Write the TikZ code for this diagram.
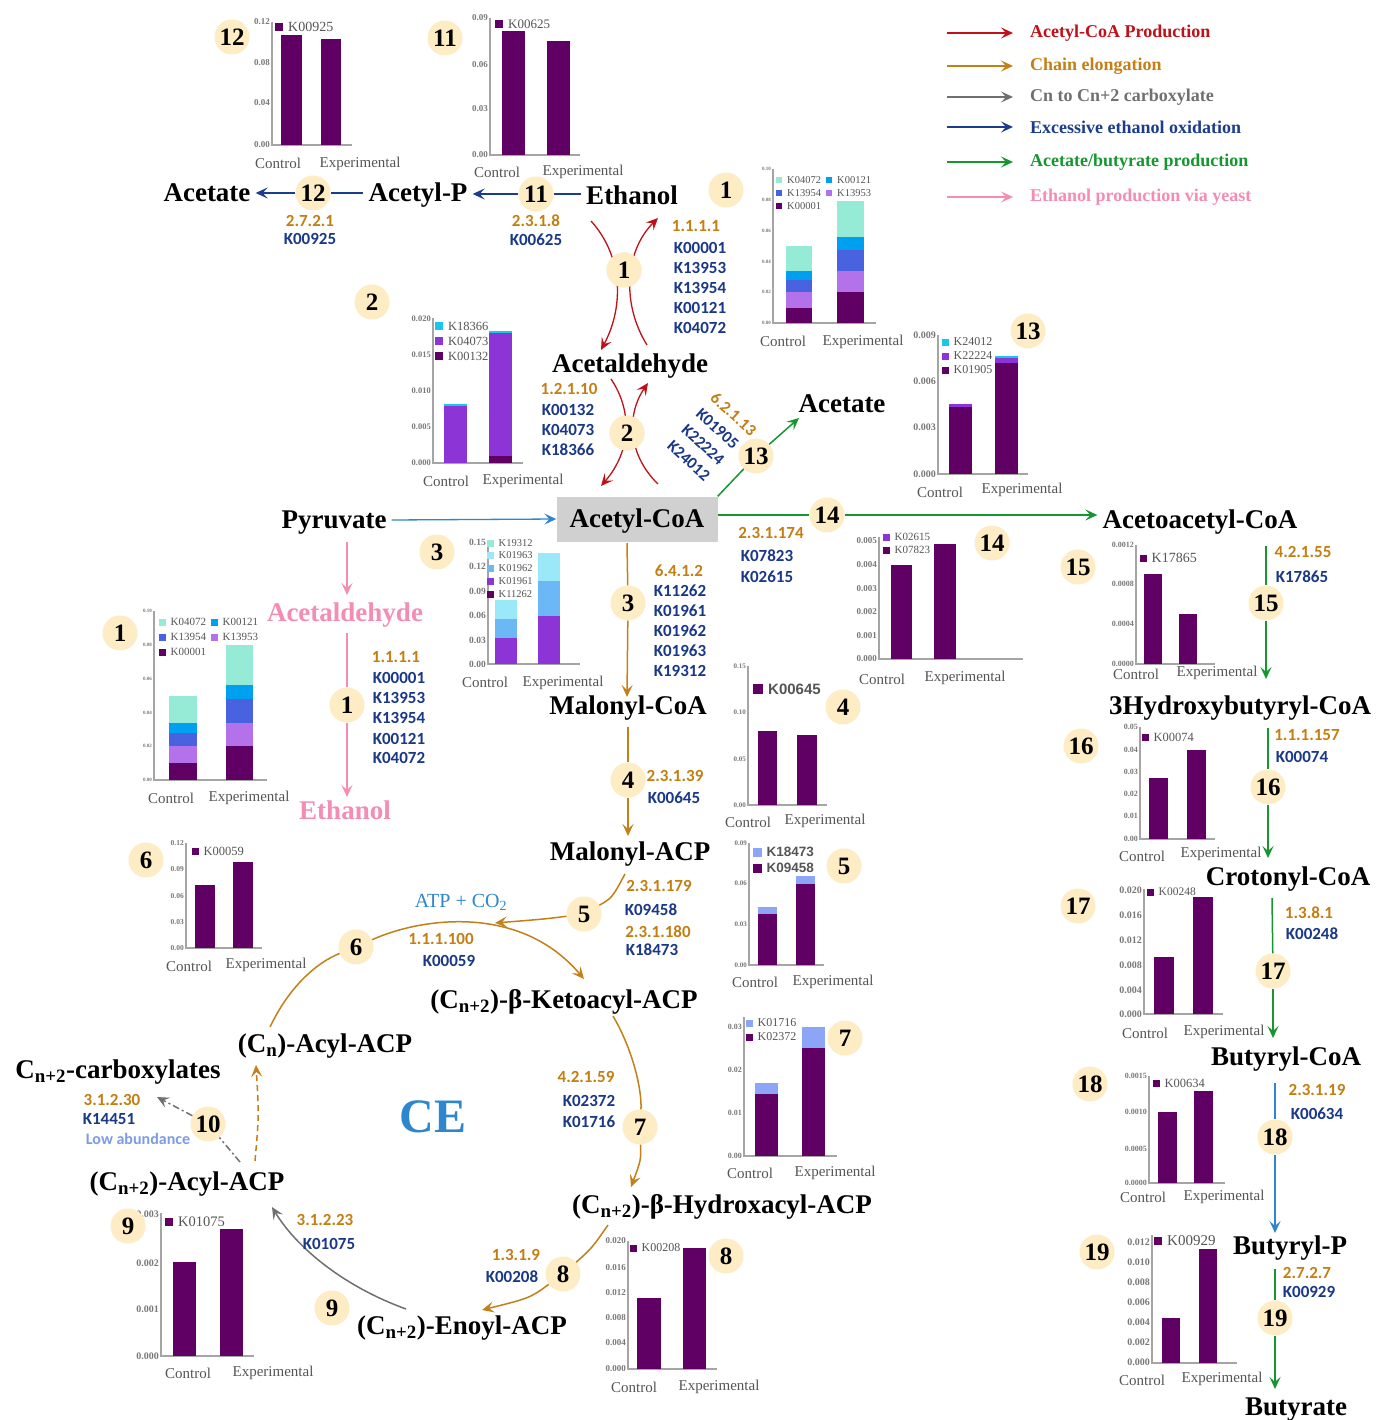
\documentclass[tikz,border=0pt]{standalone}
\usepackage{fontspec}
\setmainfont{Liberation Serif}
\newfontfamily\kfont{Carlito}
\newfontfamily\afont{Liberation Sans}
\usetikzlibrary{arrows.meta}
\definecolor{cream}{RGB}{253,236,196}
\definecolor{pp}{RGB}{96,0,100}
\definecolor{ecc}{RGB}{196,126,18}
\definecolor{kc}{RGB}{26,56,136}
\definecolor{redc}{RGB}{192,16,24}
\definecolor{orc}{RGB}{196,128,22}
\definecolor{grc}{RGB}{112,112,112}
\definecolor{blc}{RGB}{28,60,140}
\definecolor{gnc}{RGB}{22,150,48}
\definecolor{pkc}{RGB}{244,140,180}
\definecolor{lbc}{RGB}{46,134,206}
\definecolor{mint}{RGB}{150,235,215}
\definecolor{brb}{RGB}{0,160,240}
\definecolor{rob}{RGB}{72,98,224}
\definecolor{lav}{RGB}{180,114,234}
\definecolor{vio}{RGB}{140,52,214}
\definecolor{cyn}{RGB}{24,200,234}
\definecolor{lcy}{RGB}{155,232,248}
\definecolor{mblu}{RGB}{108,184,246}
\definecolor{peri}{RGB}{140,166,245}
\definecolor{axc}{RGB}{165,165,165}
\definecolor{txg}{RGB}{85,85,85}
\definecolor{tkc}{RGB}{120,120,120}
\definecolor{boxg}{RGB}{208,208,208}
\definecolor{lowc}{RGB}{126,155,230}
\def\tkfs{9}\def\lgfs{12}\def\lgh{3.5}\def\lgff{}
\tikzset{
  mn/.style={font=\fontsize{27}{29}\selectfont\bfseries, inner xsep=5pt, inner ysep=2pt, text height=17.8pt, text depth=0pt},
  num/.style={circle, fill=cream, minimum size=35pt, inner sep=0pt, font=\fontsize{25}{25}\selectfont\bfseries},
  ec/.style={font=\kfont\fontsize{17}{17}\selectfont\bfseries, text=ecc, inner sep=0pt},
  kk/.style={font=\kfont\fontsize{17}{17}\selectfont\bfseries, text=kc, inner sep=0pt},
  tl/.style={anchor=east, inner sep=0pt, text=tkc, font=\fontsize{\tkfs}{\tkfs}\selectfont\bfseries},
  xl/.style={font=\fontsize{15}{15}\selectfont, text=txg, inner sep=0pt},
  lt/.style={anchor=west, inner sep=0pt, text=txg, font=\lgff\fontsize{\lgfs}{\lgfs}\selectfont},
  axl/.style={draw=axc, line width=1.2pt},
  ln/.style={line width=1.5pt},
  arr/.style={line width=1.5pt, -{Stealth[length=12pt,width=11pt,inset=5pt]}},
  legt/.style={anchor=west, inner sep=0pt, font=\fontsize{18}{18}\selectfont\bfseries},
}
\newcommand\ticks[3]{\foreach \yy/\ll [count=\ii] in {#3} {\node[tl] (#1t\ii) at (#2,\yy) {\ll};}}
\newcommand\lgd[5]{\fill[#4] (#2-\lgh,#3-\lgh) rectangle (#2+\lgh,#3+\lgh);\node[lt] (#1) at (#2+\lgh+5,#3) {#5};}
\newcommand\cx[5]{\node[xl] (#1c) at (#2,#3) {Control};\node[xl] (#1e) at (#4,#5) {Experimental};}
\begin{document}
\begin{tikzpicture}[x=1pt,y=-1pt]
\useasboundingbox (0,0) rectangle (1376,1420);
\fill[white] (0,0) rectangle (1376,1420);

% ---------------- legend
\foreach \yy/\cc/\tt [count=\ii] in {33/redc/{Acetyl-CoA Production},66/orc/{Chain elongation},97/grc/{Cn to Cn+2 carboxylate},127/blc/{Excessive ethanol oxidation},162/gnc/{Acetate/butyrate production},197/pkc/{Ethanol production via yeast}}{
  \coordinate (la\ii) at (947,\yy);
  \coordinate (lb\ii) at (1013,\yy);
  \draw[arr,\cc,line width=2pt] (la\ii) -- (lb\ii);
  \node[legt,text=\cc] (lt\ii) at (1030,\yy) {\tt};
}

% ---------------- charts
% chart 12
\def\tkfs{9}\def\lgfs{14}\def\lgh{4}
\draw[axl] (272,22) -- (272,145) -- (352,145);
\ticks{k12}{270}{22/0.12,63/0.08,103/0.04,145/0.00}
\fill[pp] (281,145) rectangle (302,35);
\fill[pp] (321,145) rectangle (341,39);
\lgd{k12l}{279}{27}{pp}{K00925}
\cx{k12}{278}{163}{360}{164}
% chart 11
\def\lgfs{13}
\draw[axl] (490,18) -- (490,155) -- (580,155);
\ticks{k11}{488}{18/0.09,65/0.06,109/0.03,155/0.00}
\fill[pp] (502,155) rectangle (525,31);
\fill[pp] (547,155) rectangle (570,41);
\lgd{k11l}{499}{24}{pp}{K00625}
\cx{k11}{497}{172}{583}{172}
% chart 1 top
\def\tkfs{5}\def\lgfs{10.5}\def\lgh{3}
\draw[axl] (773,169) -- (773,323) -- (876,323);
\ticks{k1}{771}{169/0.10,200/0.08,231/0.06,262/0.04,292/0.02,323/0.00}
\fill[pp] (786,323) rectangle (812,307.7);
\fill[lav] (786,307.7) rectangle (812,292.4);
\fill[rob] (786,292.4) rectangle (812,280.2);
\fill[brb] (786,280.2) rectangle (812,271);
\fill[mint] (786,271) rectangle (812,246.5);
\fill[pp] (837,323) rectangle (864,292.4);
\fill[lav] (837,292.4) rectangle (864,271);
\fill[rob] (837,271) rectangle (864,249.6);
\fill[brb] (837,249.6) rectangle (864,237.3);
\fill[mint] (837,237.3) rectangle (864,200.6);
\lgd{k1la}{779}{180}{mint}{K04072}
\lgd{k1lb}{829}{180}{brb}{K00121}
\lgd{k1lc}{779}{193}{rob}{K13954}
\lgd{k1ld}{829}{193}{lav}{K13953}
\lgd{k1le}{779}{206}{pp}{K00001}
\cx{k1}{783}{341}{863}{342}
% chart 1 left
\def\lgfs{11}\def\lgh{3.5}
\draw[axl] (154,611) -- (154,780) -- (267,780);
\ticks{k1b}{152}{611/0.10,645/0.08,679/0.06,713/0.04,746/0.02,780/0.00}
\fill[pp] (169,780) rectangle (197,763);
\fill[lav] (169,763) rectangle (197,746);
\fill[rob] (169,746) rectangle (197,733);
\fill[brb] (169,733) rectangle (197,723);
\fill[mint] (169,723) rectangle (197,696);
\fill[pp] (226,780) rectangle (253,746);
\fill[lav] (226,746) rectangle (253,723);
\fill[rob] (226,723) rectangle (253,699);
\fill[brb] (226,699) rectangle (253,685);
\fill[mint] (226,685) rectangle (253,645);
\lgd{k1bla}{162}{622}{mint}{K04072}
\lgd{k1blb}{214}{622}{brb}{K00121}
\lgd{k1blc}{162}{637}{rob}{K13954}
\lgd{k1bld}{214}{637}{lav}{K13953}
\lgd{k1ble}{162}{652}{pp}{K00001}
\cx{k1b}{171}{798}{249}{798}
% chart 2
\def\tkfs{8.5}\def\lgfs{12.5}\def\lgh{4}
\draw[axl] (433,318) -- (433,463) -- (523,463);
\ticks{k2}{431}{319/0.020,355/0.015,391/0.010,427/0.005,463/0.000}
\fill[vio] (444,463) rectangle (467,406);
\fill[cyn] (444,406) rectangle (467,404.3);
\fill[pp] (489,463) rectangle (512,456);
\fill[vio] (489,456) rectangle (512,333);
\fill[cyn] (489,333) rectangle (512,331.3);
\lgd{k2la}{439}{326}{cyn}{K18366}
\lgd{k2lb}{439}{341}{vio}{K04073}
\lgd{k2lc}{439}{356}{pp}{K00132}
\cx{k2}{446}{481}{523}{481}
% chart 3
\def\tkfs{9.5}\def\lgfs{10.5}\def\lgh{3.5}
\draw[axl] (488,542) -- (488,664) -- (580,664);
\ticks{k3}{486}{542/0.15,566/0.12,591/0.09,615/0.06,640/0.03,664/0.00}
\fill[vio] (495,664) rectangle (517,638);
\fill[mblu] (495,638) rectangle (517,619);
\fill[lcy] (495,619) rectangle (517,600);
\fill[vio] (538,664) rectangle (560,616);
\fill[mblu] (538,616) rectangle (560,581);
\fill[lcy] (538,581) rectangle (560,553);
\lgd{k3la}{490}{543}{mint}{K19312}
\lgd{k3lb}{490}{555}{lcy}{K01963}
\lgd{k3lc}{490}{568}{mblu}{K01962}
\lgd{k3ld}{490}{581}{vio}{K01961}
\lgd{k3le}{490}{594}{pp}{K11262}
\cx{k3}{485}{682}{563}{683}
% chart 13
\def\tkfs{10}\def\lgfs{12}
\draw[axl] (938,335) -- (938,474) -- (1028,474);
\ticks{k13}{936}{335/0.009,381/0.006,427/0.003,474/0.000}
\fill[pp] (949,474) rectangle (972,407);
\fill[vio] (949,407) rectangle (972,404);
\fill[pp] (995,474) rectangle (1018,363);
\fill[vio] (995,363) rectangle (1018,358);
\fill[cyn] (995,358) rectangle (1018,355.5);
\lgd{k13la}{945}{342}{cyn}{K24012}
\lgd{k13lb}{945}{356}{vio}{K22224}
\lgd{k13lc}{945}{370}{pp}{K01905}
\cx{k13}{940}{492}{1022}{490}
% chart 14
\def\tkfs{9}\def\lgfs{11}
\draw[axl] (879,537) -- (879,659) -- (1023,659);
\ticks{k14}{877}{541/0.005,565/0.004,589/0.003,612/0.002,636/0.001,659/0.000}
\fill[pp] (891,659) rectangle (912,565);
\fill[pp] (934,659) rectangle (956,544);
\lgd{k14la}{886}{537}{vio}{K02615}
\lgd{k14lb}{886}{550}{pp}{K07823}
\cx{k14}{882}{679}{965}{678}
% chart 4
\def\tkfs{7}\def\lgfs{15}\def\lgh{5}\def\lgff{\afont\bfseries}
\draw[axl] (748,666) -- (748,805) -- (827,805);
\ticks{k4}{746}{666/0.15,712/0.10,759/0.05,805/0.00}
\fill[pp] (758,805) rectangle (777,731);
\fill[pp] (797,805) rectangle (817,735);
\lgd{k4l}{758}{689}{pp}{K00645}
\cx{k4}{748}{822}{825}{821}
% chart 5
\def\lgfs{13.5}\def\lgh{4.5}
\draw[axl] (749,843) -- (749,965) -- (824,965);
\ticks{k5}{747}{843/0.09,883/0.06,924/0.03,965/0.00}
\fill[pp] (758,965) rectangle (777,914);
\fill[peri] (758,914) rectangle (777,907);
\fill[pp] (796,965) rectangle (815,884);
\fill[peri] (796,884) rectangle (815,876);
\lgd{k5la}{757}{852}{peri}{K18473}
\lgd{k5lb}{757}{868}{pp}{K09458}
\cx{k5}{755}{982}{833}{982}
\def\lgff{}
% chart 6
\def\tkfs{7.5}\def\lgfs{12.5}\def\lgh{3.5}
\draw[axl] (186,843) -- (186,948) -- (262,948);
\ticks{k6}{184}{843/0.12,869/0.09,896/0.06,922/0.03,948/0.00}
\fill[pp] (195,948) rectangle (215,885);
\fill[pp] (233,948) rectangle (253,862);
\lgd{k6l}{195}{851}{pp}{K00059}
\cx{k6}{189}{966}{266}{965}
% chart 7
\def\tkfs{8}\def\lgfs{12}
\draw[axl] (744,1017) -- (744,1156) -- (837,1156);
\ticks{k7}{742}{1027/0.03,1070/0.02,1113/0.01,1156/0.00}
\fill[pp] (755,1156) rectangle (778,1094);
\fill[peri] (755,1094) rectangle (778,1083);
\fill[pp] (802,1156) rectangle (825,1048);
\fill[peri] (802,1048) rectangle (825,1027);
\lgd{k7la}{749}{1023}{peri}{K01716}
\lgd{k7lb}{749}{1037}{pp}{K02372}
\cx{k7}{750}{1173}{835}{1173}
% chart 8
\def\tkfs{9}
\draw[axl] (628,1241) -- (628,1369) -- (717,1369);
\ticks{k8}{626}{1241/0.020,1268/0.016,1293/0.012,1318/0.008,1343/0.004,1369/0.000}
\fill[pp] (637,1369) rectangle (661,1298);
\fill[pp] (683,1369) rectangle (706,1248);
\lgd{k8l}{633}{1248}{pp}{K00208}
\cx{k8}{634}{1387}{719}{1387}
% chart 9
\def\tkfs{10}\def\lgfs{14.5}\def\lgh{4}
\draw[axl] (161,1213) -- (161,1356) -- (254,1356);
\ticks{k9}{159}{1214/0.003,1263/0.002,1309/0.001,1356/0.000}
\fill[pp] (173,1356) rectangle (196,1262);
\fill[pp] (220,1356) rectangle (243,1229);
\lgd{k9l}{169}{1222}{pp}{K01075}
\cx{k9}{188}{1373}{273}{1373}
% chart 15
\def\tkfs{8}\def\lgfs{14}\def\lgh{3.5}
\draw[axl] (1136,545) -- (1136,664) -- (1215,664);
\ticks{k15}{1134}{545/0.0012,584/0.0008,624/0.0004,664/0.0000}
\fill[pp] (1144,664) rectangle (1162,574);
\fill[pp] (1179,664) rectangle (1197,614);
\lgd{k15l}{1143}{558}{pp}{K17865}
\cx{k15}{1136}{674}{1217}{673}
% chart 16
\def\lgfs{12.5}
\draw[axl] (1140,727) -- (1140,839) -- (1215,839);
\ticks{k16}{1138}{727/0.05,750/0.04,772/0.03,794/0.02,816/0.01,839/0.00}
\fill[pp] (1149,839) rectangle (1168,778);
\fill[pp] (1187,839) rectangle (1206,750);
\lgd{k16l}{1145}{737}{pp}{K00074}
\cx{k16}{1142}{856}{1221}{854}
% chart 17
\def\tkfs{10}\def\lgfs{11.5}
\draw[axl] (1144,889) -- (1144,1014) -- (1223,1014);
\ticks{k17}{1142}{890/0.020,915/0.016,940/0.012,965/0.008,990/0.004,1014/0.000}
\fill[pp] (1154,1014) rectangle (1174,957);
\fill[pp] (1193,1014) rectangle (1213,897);
\lgd{k17l}{1150}{892}{pp}{K00248}
\cx{k17}{1145}{1033}{1224}{1032}
% chart 18
\def\tkfs{8}\def\lgfs{12.5}
\draw[axl] (1149,1076) -- (1149,1183) -- (1225,1183);
\ticks{k18}{1147}{1076/0.0015,1112/0.0010,1149/0.0005,1183/0.0000}
\fill[pp] (1158,1183) rectangle (1177,1112);
\fill[pp] (1194,1183) rectangle (1213,1091);
\lgd{k18l}{1156}{1083}{pp}{K00634}
\cx{k18}{1143}{1197}{1224}{1197}
% chart 19
\def\tkfs{10}\def\lgfs{15}\def\lgh{4}
\draw[axl] (1152,1235) -- (1152,1363) -- (1237,1363);
\ticks{k19}{1150}{1242/0.012,1262/0.010,1282/0.008,1302/0.006,1322/0.004,1342/0.002,1362/0.000}
\fill[pp] (1162,1363) rectangle (1180,1318);
\fill[pp] (1199,1363) rectangle (1217,1249);
\lgd{k19l}{1158}{1241}{pp}{K00929}
\cx{k19}{1142}{1380}{1222}{1379}

% ---------------- main nodes
\node[mn] (ethanol1) at (632,196) {Ethanol};
\node[mn] (acetylp) at (418,193) {Acetyl-P};
\node[mn] (acetate1) at (207,193) {Acetate};
\node[mn] (acald1) at (630,364) {Acetaldehyde};
\node[mn, fill=boxg, minimum width=161pt, minimum height=45pt] (accoa) at (637,519) {Acetyl-CoA};
\node[mn] (pyr) at (334,520) {Pyruvate};
\node[mn] (acetate2) at (842,404) {Acetate};
\node[mn] (acac) at (1200,520) {Acetoacetyl-CoA};
\node[mn, text=pkc] (acald2) at (345,613) {Acetaldehyde};
\node[mn, text=pkc] (ethanol2) at (345,811) {Ethanol};
\node[mn] (malcoa) at (628,706) {Malonyl-CoA};
\node[mn] (malacp) at (630,852) {Malonyl-ACP};
\node[mn] (keto) at (564,1000) {(C\textsubscript{n+2})-β-Ketoacyl-ACP};
\node[mn] (cnacyl) at (325,1044) {(C\textsubscript{n})-Acyl-ACP};
\node[mn] (carbox) at (118,1070) {C\textsubscript{n+2}-carboxylates};
\node[mn] (acyl2) at (187,1182) {(C\textsubscript{n+2})-Acyl-ACP};
\node[mn] (hydrox) at (722,1205) {(C\textsubscript{n+2})-β-Hydroxacyl-ACP};
\node[mn] (enoyl) at (462,1326) {(C\textsubscript{n+2})-Enoyl-ACP};
\node[mn] (hbcoa) at (1240,706) {3Hydroxybutyryl-CoA};
\node[mn] (crot) at (1288,877) {Crotonyl-CoA};
\node[mn] (bcoa) at (1286,1057) {Butyryl-CoA};
\node[mn] (bp) at (1290,1246) {Butyryl-P};
\node[mn] (buty) at (1296,1407) {Butyrate};
\node[font=\fontsize{48}{48}\selectfont\bfseries, text=lbc] (ce) at (433,1117) {CE};
\node[font=\fontsize{20}{20}\selectfont, text=lbc] (atp) at (461,902) {ATP + CO\textsubscript{2}};

% ---------------- circles on paths
\node[num] (c1) at (624,270) {1};
\node[num] (c2) at (627,433) {2};
\node[num] (c3) at (628,603) {3};
\node[num] (c4) at (628,780) {4};
\node[num] (c5) at (584,914) {5};
\node[num] (c6) at (356,947) {6};
\node[num] (c7) at (640,1127) {7};
\node[num] (c8) at (563,1274) {8};
\node[num] (c9) at (332,1308) {9};
\node[num] (c10) at (208,1124) {10};
\node[num] (c11) at (536,194) {11};
\node[num] (c12) at (313,193) {12};
\node[num] (c13) at (756,456) {13};
\node[num] (c14) at (827,515) {14};
\node[num] (c15) at (1266,603) {15};
\node[num] (c16) at (1268,787) {16};
\node[num] (c17) at (1273,971) {17};
\node[num] (c18) at (1275,1137) {18};
\node[num] (c19) at (1275,1318) {19};
\node[num] (c1p) at (347,705) {1};
% circles next to charts
\node[num] (d1) at (726,190) {1};
\node[num] (d1l) at (120,633) {1};
\node[num] (d2) at (372,302) {2};
\node[num] (d3) at (437,552) {3};
\node[num] (d4) at (843,707) {4};
\node[num] (d5) at (844,866) {5};
\node[num] (d6) at (146,860) {6};
\node[num] (d7) at (845,1038) {7};
\node[num] (d8) at (726,1256) {8};
\node[num] (d9) at (128,1226) {9};
\node[num] (d11) at (445,38) {11};
\node[num] (d12) at (232,37) {12};
\node[num] (d13) at (1028,331) {13};
\node[num] (d14) at (992,543) {14};
\node[num] (d15) at (1078,567) {15};
\node[num] (d16) at (1081,746) {16};
\node[num] (d17) at (1078,906) {17};
\node[num] (d18) at (1090,1084) {18};
\node[num] (d19) at (1097,1252) {19};

% ---------------- connectors
% ethanol oxidation (top)
\draw[ln,blc] (ethanol1.west |- c11) -- (c11);
\draw[arr,blc] (c11) -- (acetylp.east |- c11);
\draw[ln,blc] (acetylp.west |- c12) -- (c12);
\draw[arr,blc] (c12) -- (acetate1.east |- c12);
% red reversible arrows
\coordinate (ra1) at (591,221); \coordinate (ra2) at (601,350);
\coordinate (rb1) at (647,345); \coordinate (rb2) at (658,218);
\coordinate (rc1) at (611,379); \coordinate (rc2) at (601,486);
\coordinate (rd1) at (658,484); \coordinate (rd2) at (648,383);
\draw[arr,redc,line width=1.3pt] (ra1) .. controls (622,255) and (625,305) .. (ra2);
\draw[arr,redc,line width=1.3pt] (rb1) .. controls (622,305) and (624,252) .. (rb2);
\draw[arr,redc,line width=1.3pt] (rc1) .. controls (632,410) and (632,450) .. (rc2);
\draw[arr,redc,line width=1.3pt] (rd1) .. controls (628,455) and (626,415) .. (rd2);
\node[num] at (c1) {1};
\node[num] at (c2) {2};
% pyruvate
\draw[arr,lbc,line width=1.3pt] (pyr.east) -- (accoa.west);
\coordinate (pa1) at (347,542); \coordinate (pa2) at (347,595);
\draw[arr,pkc] (pa1) -- (pa2);
\coordinate (pb1) at (347,633); \coordinate (pb2) at (347,797);
\draw[ln,pkc] (pb1) -- (c1p);
\draw[arr,pkc] (c1p) -- (pb2);
% acetate / acetoacetyl
\coordinate (a13) at (799,418);
\draw[ln,gnc] (accoa.north east) -- (c13);
\draw[arr,gnc] (c13) -- (a13);
\draw[ln,gnc] (accoa.east |- c14) -- (c14);
\draw[arr,gnc] (c14) -- (acac.west |- c14);
% chain elongation
\coordinate (q3a) at (627,543); \coordinate (q3b) at (627,697);
\draw[ln,orc] (q3a) -- (c3);
\draw[arr,orc] (c3) -- (q3b);
\coordinate (q4a) at (628,727); \coordinate (q4b) at (628,836);
\draw[ln,orc] (q4a) -- (c4);
\draw[arr,orc] (c4) -- (q4b);
\coordinate (q5a) at (625,874); \coordinate (q5b) at (495,923);
\draw[ln,orc] (q5a) .. controls (612,898) .. (c5);
\draw[arr,orc] (c5) .. controls (545,919) .. (q5b);
\coordinate (q6a) at (270,1027); \coordinate (q6b) at (584,979);
\draw[ln,orc] (q6a) .. controls (290,985) and (318,962) .. (c6);
\draw[arr,orc] (c6) .. controls (420,918) and (520,903) .. (q6b);
\coordinate (q7a) at (613,1016); \coordinate (q7b) at (631,1187);
\draw[ln,orc] (q7a) .. controls (633,1050) and (642,1090) .. (c7);
\draw[arr,orc] (c7) .. controls (641,1160) .. (q7b);
\coordinate (q8a) at (608,1225); \coordinate (q8b) at (482,1310);
\draw[ln,orc] (q8a) .. controls (592,1248) .. (c8);
\draw[arr,orc] (c8) .. controls (530,1298) .. (q8b);
\coordinate (q9a) at (406,1309); \coordinate (q9b) at (272,1207);
\draw[arr,grc] (q9a) .. controls (340,1285) and (295,1245) .. (q9b);
\coordinate (q10a) at (255,1161); \coordinate (q10b) at (256,1065);
\draw[arr,orc,dash pattern=on 6pt off 4pt] (q10a) .. controls (259,1115) .. (q10b);
\coordinate (q10c) at (240,1162); \coordinate (q10d) at (157,1097);
\draw[ln,grc,dash pattern=on 7pt off 3pt on 2pt off 3pt] (q10c) -- (c10);
\draw[arr,grc,dash pattern=on 7pt off 3pt on 2pt off 3pt] (c10) -- (q10d);
% butyrate pathway
\coordinate (s15a) at (1266,546); \coordinate (s15b) at (1266,679);
\draw[ln,gnc] (s15a) -- (c15); \draw[arr,gnc] (c15) -- (s15b);
\coordinate (s16a) at (1268,728); \coordinate (s16b) at (1268,858);
\draw[ln,gnc] (s16a) -- (c16); \draw[arr,gnc] (c16) -- (s16b);
\coordinate (s17a) at (1272,898); \coordinate (s17b) at (1273,1038);
\draw[ln,gnc] (s17a) -- (c17); \draw[arr,gnc] (c17) -- (s17b);
\coordinate (s18a) at (1275,1083); \coordinate (s18b) at (1275,1233);
\draw[ln,lbc] (s18a) -- (c18); \draw[arr,lbc] (c18) -- (s18b);
\coordinate (s19a) at (1275,1269); \coordinate (s19b) at (1275,1389);
\draw[ln,gnc] (s19a) -- (c19); \draw[arr,gnc] (c19) -- (s19b);

% ---------------- enzyme labels
\node[ec] (e12) at (310,221) {2.7.2.1};
\node[kk] (k12a) at (310,239) {K00925};
\node[ec] (e11) at (536,221) {2.3.1.8};
\node[kk] (k11a) at (536,240) {K00625};
\node[ec] (e1) at (696,226) {1.1.1.1};
\node[kk] (k1a) at (700,248) {K00001};
\node[kk] (k1b) at (700,268) {K13953};
\node[kk] (k1c) at (700,288) {K13954};
\node[kk] (k1d) at (700,308) {K00121};
\node[kk] (k1e) at (700,328) {K04072};
\node[ec] (e2) at (569,389) {1.2.1.10};
\node[kk] (k2a) at (568,410) {K00132};
\node[kk] (k2b) at (568,430) {K04073};
\node[kk] (k2c) at (568,450) {K18366};
\node[kk, rotate=-42, align=left, font=\kfont\fontsize{16.5}{21.5}\selectfont\bfseries] (e13) at (712,438) {\textcolor{ecc}{6.2.1.13}\\K01905\\K22224\\K24012};
\node[ec] (e14) at (771,533) {2.3.1.174};
\node[kk] (k14a) at (767,556) {K07823};
\node[kk] (k14b) at (767,577) {K02615};
\node[ec] (e1p) at (396,657) {1.1.1.1};
\node[kk] (k1pa) at (399,678) {K00001};
\node[kk] (k1pb) at (399,698) {K13953};
\node[kk] (k1pc) at (399,718) {K13954};
\node[kk] (k1pd) at (399,739) {K00121};
\node[kk] (k1pe) at (399,758) {K04072};
\node[ec] (e3) at (679,571) {6.4.1.2};
\node[kk] (k3a) at (680,591) {K11262};
\node[kk] (k3b) at (680,611) {K01961};
\node[kk] (k3c) at (680,631) {K01962};
\node[kk] (k3d) at (680,651) {K01963};
\node[kk] (k3e) at (680,671) {K19312};
\node[ec] (e4) at (675,776) {2.3.1.39};
\node[kk] (k4a) at (674,798) {K00645};
\node[ec] (e5a) at (659,886) {2.3.1.179};
\node[kk] (k5a) at (651,910) {K09458};
\node[ec] (e5b) at (658,932) {2.3.1.180};
\node[kk] (k5b) at (652,950) {K18473};
\node[ec] (e6) at (441,939) {1.1.1.100};
\node[kk] (k6a) at (449,961) {K00059};
\node[ec] (e7) at (586,1077) {4.2.1.59};
\node[kk] (k7a) at (589,1101) {K02372};
\node[kk] (k7b) at (589,1122) {K01716};
\node[ec] (e8) at (516,1255) {1.3.1.9};
\node[kk] (k8a) at (512,1277) {K00208};
\node[ec] (e9) at (325,1220) {3.1.2.23};
\node[kk] (k9a) at (329,1244) {K01075};
\node[ec] (e10) at (112,1100) {3.1.2.30};
\node[kk] (k10a) at (109,1119) {K14451};
\node[kk, text=lowc, font=\kfont\fontsize{16}{16}\selectfont\bfseries] (low) at (138,1139) {Low abundance};
\node[ec] (e15) at (1303,552) {4.2.1.55};
\node[kk] (k15a) at (1302,577) {K17865};
\node[ec] (e16) at (1307,735) {1.1.1.157};
\node[kk] (k16a) at (1302,757) {K00074};
\node[ec] (e17) at (1309,913) {1.3.8.1};
\node[kk] (k17a) at (1312,934) {K00248};
\node[ec] (e18) at (1317,1090) {2.3.1.19};
\node[kk] (k18a) at (1317,1114) {K00634};
\node[ec] (e19) at (1307,1273) {2.7.2.7};
\node[kk] (k19a) at (1309,1292) {K00929};
\end{tikzpicture}
\end{document}
